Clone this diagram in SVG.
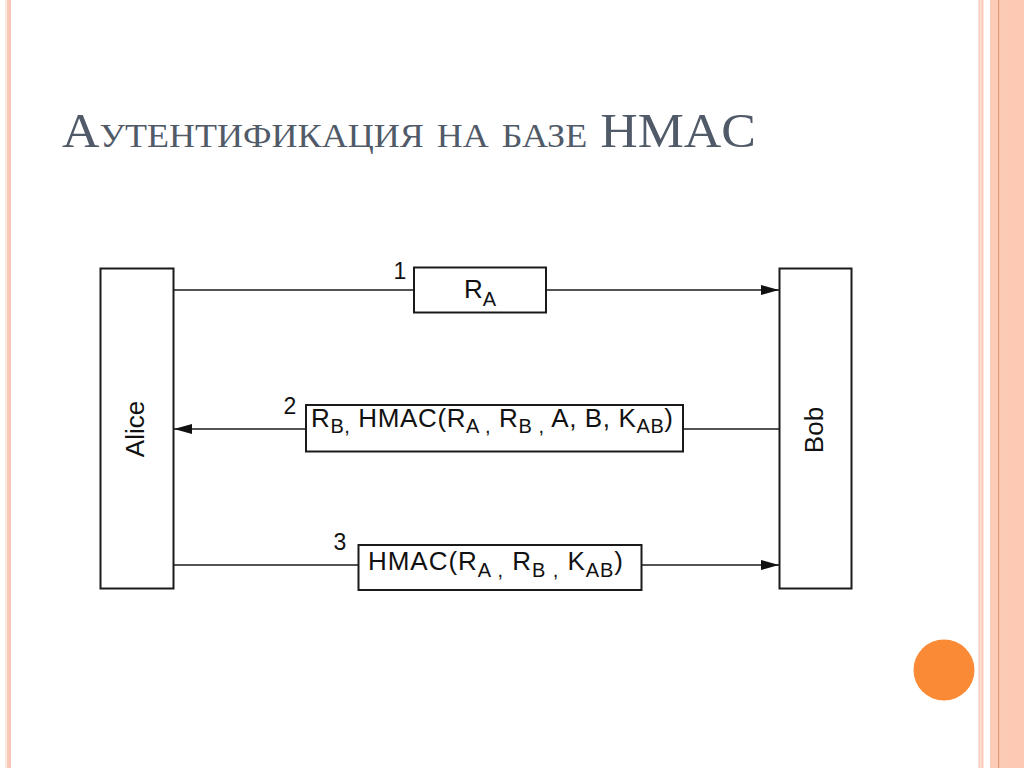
<svg xmlns="http://www.w3.org/2000/svg" width="1024" height="768" viewBox="0 0 1024 768">
<defs>
<style>
.box{fill:#fff;stroke:#1a1a1a;stroke-width:2}
.ln{stroke:#1a1a1a;stroke-width:1.6;fill:none}
.t{font-family:"Liberation Sans",Arial,sans-serif;fill:#111;font-size:26px}
.s{font-size:20px}
.n{font-size:23px}
.title{font-family:"Liberation Serif","Times New Roman",serif;fill:#505a68;font-size:49px;font-variant:small-caps}
</style>
<marker id="ah" markerWidth="18" markerHeight="10" refX="18" refY="5" orient="auto" markerUnits="userSpaceOnUse">
<path d="M0,0 L18,5 L0,10 Z" fill="#111"/>
</marker>
</defs>
<rect width="1024" height="768" fill="#fff"/>
<g id="frame">
<rect x="5" y="0" width="1.5" height="768" fill="#fde2d6"/>
<rect x="7" y="0" width="4" height="768" fill="#fbc6b6"/>
<rect x="978.5" y="0" width="5" height="768" fill="#fbcbbd"/>
<rect x="980" y="0" width="1.5" height="768" fill="#fde0d4"/>
<rect x="990" y="0" width="34" height="768" fill="#fccbb5"/>
<rect x="998" y="0" width="1.2" height="768" fill="#e39a7a"/>
<rect x="1008" y="0" width="16" height="768" fill="#fdc9b4"/>
<circle cx="944" cy="670" r="30.5" fill="#fa8a36"/>
</g>
<text class="title" x="62" y="147" textLength="694" lengthAdjust="spacingAndGlyphs">Аутентификация на базе HMAC</text>
<g id="connectors">
<line class="ln" x1="173" y1="290" x2="414" y2="290"/>
<line class="ln" x1="546" y1="290" x2="779" y2="290" marker-end="url(#ah)"/>
<line class="ln" x1="779" y1="429" x2="683" y2="429"/>
<line class="ln" x1="306" y1="429" x2="174" y2="429" marker-end="url(#ah)"/>
<line class="ln" x1="173" y1="565" x2="358" y2="565"/>
<line class="ln" x1="642" y1="565" x2="779" y2="565" marker-end="url(#ah)"/>
</g>
<g id="alice">
<rect class="box" x="100.5" y="268.5" width="73" height="320"/>
<text class="t" style="font-size:26px" text-anchor="middle" transform="translate(144,429) rotate(-90)">Alice</text>
</g>
<g id="bob">
<rect class="box" x="779.5" y="268.5" width="72" height="320"/>
<text class="t" style="font-size:26px" text-anchor="middle" transform="translate(823,430) rotate(-90)">Bob</text>
</g>
<g id="msg1">
<rect class="box" x="414" y="267.5" width="132" height="45"/>
<text class="t n" x="400" y="279" text-anchor="middle">1</text>
<text class="t" x="480" y="298" text-anchor="middle">R<tspan class="s" dy="8">A</tspan></text>
</g>
<g id="msg2">
<rect class="box" x="306" y="405" width="377" height="46.5"/>
<text class="t n" x="290" y="414" text-anchor="middle">2</text>
<text class="t" x="311" y="427" textLength="362">R<tspan class="s" dy="6">B,</tspan><tspan dy="-6"> HMAC(R</tspan><tspan class="s" dy="6">A ,</tspan><tspan dy="-6"> R</tspan><tspan class="s" dy="6">B ,</tspan><tspan dy="-6"> A, B, K</tspan><tspan class="s" dy="6">AB</tspan><tspan dy="-6">)</tspan></text>
</g>
<g id="msg3">
<rect class="box" x="358.5" y="545" width="283" height="45"/>
<text class="t n" x="340" y="550" text-anchor="middle">3</text>
<text class="t" x="368" y="570" textLength="255">HMAC(R<tspan class="s" dy="7">A ,</tspan><tspan dy="-7"> R</tspan><tspan class="s" dy="7">B ,</tspan><tspan dy="-7"> K</tspan><tspan class="s" dy="7">AB</tspan><tspan dy="-7">)</tspan></text>
</g>
</svg>
